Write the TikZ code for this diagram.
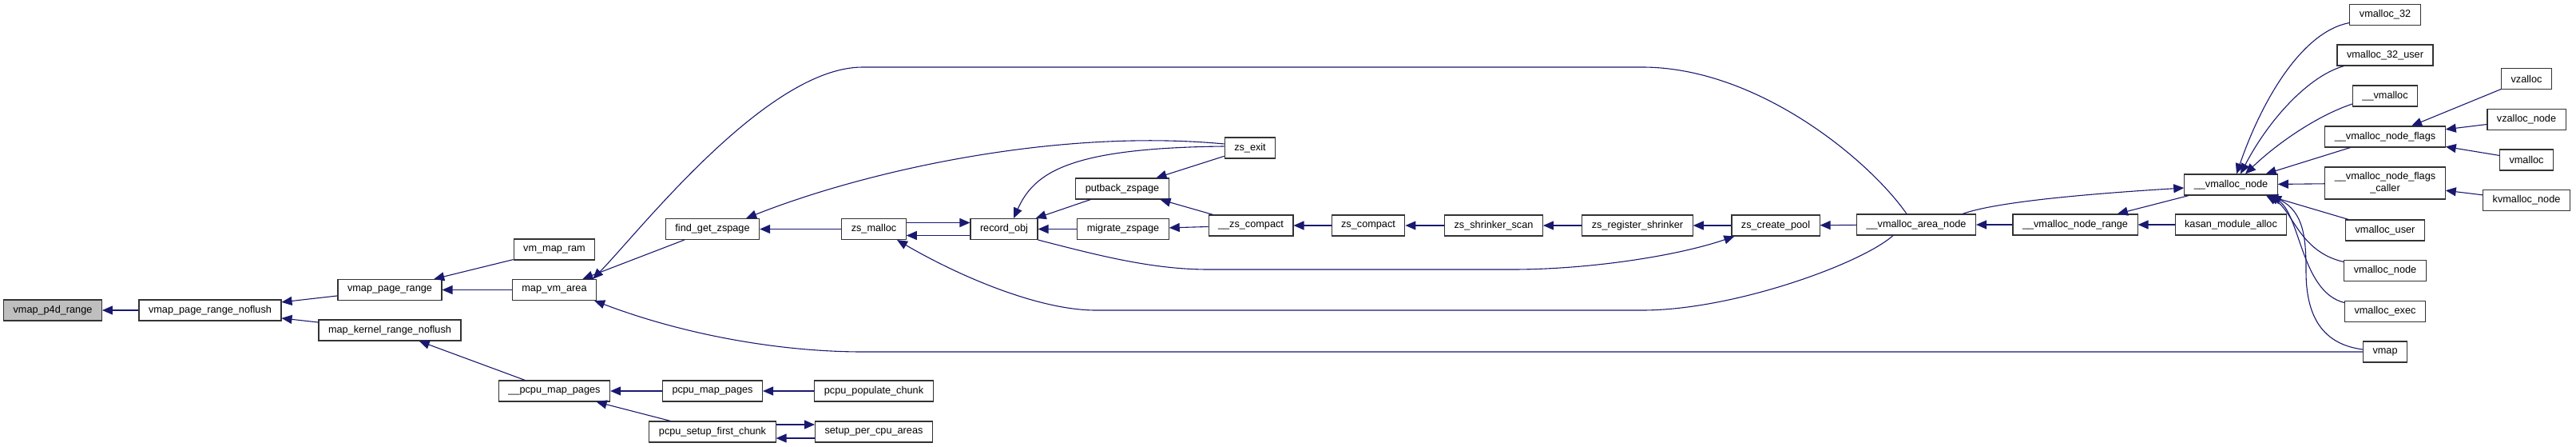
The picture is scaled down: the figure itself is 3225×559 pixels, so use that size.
\documentclass[tikz,border=0pt]{standalone}
\usepackage{fontspec}
\setmainfont{Liberation Sans}
\usetikzlibrary{arrows.meta}
\definecolor{mblue}{HTML}{191970}
\definecolor{ngray}{HTML}{BFBFBF}
\begin{document}
\begin{tikzpicture}[x=1pt,y=-1pt,
  nbox/.style={draw=black!80, line width=1.1pt, fill=white, inner xsep=12pt, inner ysep=0pt,
    minimum height=26pt, font=\fontsize{12.7}{15}\selectfont, text=black},
  cg/.style={draw=mblue, line width=1.1pt, {Triangle[length=13pt,width=11pt]}-}
]
\path[use as bounding box] (0,0) rectangle (3225,559);

% nodes
\node[nbox, fill=ngray] (p4d) at (66,388) {vmap\_p4d\_range};
\node[nbox] (noflush) at (263,388) {vmap\_page\_range\_noflush};
\node[nbox] (vpr) at (488,362.5) {vmap\_page\_range};
\node[nbox] (mkrn) at (488,413) {map\_kernel\_range\_noflush};
\node[nbox] (vmram) at (694,312) {vm\_map\_ram};
\node[nbox] (mva) at (694,362.5) {map\_vm\_area};
\node[nbox] (pmp) at (694,489) {\_\_pcpu\_map\_pages};
\node[nbox] (pcpumap) at (892,489) {pcpu\_map\_pages};
\node[nbox] (psfc) at (892,540) {pcpu\_setup\_first\_chunk};
\node[nbox] (ppc) at (1094,489) {pcpu\_populate\_chunk};
\node[nbox] (spca) at (1094,540) {setup\_per\_cpu\_areas};
\node[nbox] (fgz) at (892,286.5) {find\_get\_zspage};
\node[nbox] (zsm) at (1094,286.5) {zs\_malloc};
\node[nbox] (rec) at (1257,286.5) {record\_obj};
\node[nbox] (putb) at (1405,236) {putback\_zspage};
\node[nbox] (migr) at (1406,286.5) {migrate\_zspage};
\node[nbox] (zsexit) at (1565,185) {zs\_exit};
\node[nbox] (zzc) at (1566,282) {\_\_zs\_compact};
\node[nbox] (zsc) at (1713,282) {zs\_compact};
\node[nbox] (zss) at (1870,282) {zs\_shrinker\_scan};
\node[nbox] (zsr) at (2050,282) {zs\_register\_shrinker};
\node[nbox] (zcp) at (2223,282) {zs\_create\_pool};
\node[nbox] (van) at (2399,281) {\_\_vmalloc\_area\_node};
\node[nbox] (vnr) at (2598,281) {\_\_vmalloc\_node\_range};
\node[nbox] (kasan) at (2793,281) {kasan\_module\_alloc};
\node[nbox] (vn) at (2793,231) {\_\_vmalloc\_node};
\node[nbox] (v32) at (2986,18.5) {vmalloc\_32};
\node[nbox] (v32u) at (2986,69) {vmalloc\_32\_user};
\node[nbox] (uvm) at (2986,120) {\_\_vmalloc};
\node[nbox] (vnf) at (2986,171) {\_\_vmalloc\_node\_flags};
\node[nbox, align=center, minimum height=40pt, inner ysep=2pt] (vnfc) at (2986,229) {\_\_vmalloc\_node\_flags\\\_caller};
\node[nbox] (vuser) at (2986,288) {vmalloc\_user};
\node[nbox] (vnode) at (2986,338.5) {vmalloc\_node};
\node[nbox] (vexec) at (2986,389.5) {vmalloc\_exec};
\node[nbox] (vmap) at (2986,440) {vmap};
\node[nbox] (vz) at (3163,98.5) {vzalloc};
\node[nbox] (vzn) at (3163,149.5) {vzalloc\_node};
\node[nbox] (vmalloc) at (3163,200) {vmalloc};
\node[nbox] (kvn) at (3163,250.5) {kvmalloc\_node};

% edges
\draw[cg] (p4d) -- (noflush);
\draw[cg] (noflush) -- (vpr);
\draw[cg] (noflush) -- (mkrn);
\draw[cg] (vpr) -- (vmram);
\draw[cg] (vpr) -- (mva);
\draw[cg] (mkrn) -- (pmp);
\draw[cg] (mva) -- (fgz);
\draw[cg] ([xshift=-5pt]mva.north east) .. controls (800,290) and (960,84) .. (1080,84)
  -- (2056,84) .. controls (2200,84) and (2340,200) .. ([xshift=-12pt]van.north);
\draw[cg] ([xshift=-3pt]mva.south east) .. controls (860,420) and (980,440) .. (1080,440) -- (vmap.west);
\draw[cg] (pmp) -- (pcpumap);
\draw[cg] (pmp) -- (psfc);
\draw[cg] (pcpumap) -- (ppc);
\draw[cg] ([yshift=9pt]spca.west) -- ([yshift=9pt]psfc.east);
\draw[cg] ([yshift=-8pt]psfc.east) -- ([yshift=-8pt]spca.west);
\draw[cg] (fgz) -- (zsm);
\draw[cg] ([xshift=-17pt]fgz.north east) .. controls (1080,215) and (1320,160) .. ([yshift=5pt]zsexit.west);
\draw[cg] ([yshift=8pt]rec.west) -- ([yshift=8pt]zsm.east);
\draw[cg] ([yshift=-8pt]zsm.east) -- ([yshift=-8pt]rec.west);
\draw[cg] ([xshift=29pt]zsm.south) .. controls (1200,345) and (1300,388) .. (1372,388)
  -- (2056,388) .. controls (2170,388) and (2330,330) .. ([xshift=-29pt]van.south);
\draw[cg] (rec) -- (migr);
\draw[cg] (rec) -- (putb);
\draw[cg] ([xshift=12pt]rec.north) .. controls (1295,215) and (1340,185) .. ([yshift=2pt]zsexit.west);
\draw[cg] ([xshift=4pt]zcp.south west) .. controls (2100,320) and (1990,337) .. (1893,337)
  -- (1513,337) .. controls (1440,337) and (1370,318) .. (rec.south east);
\draw[cg] (putb) -- (zsexit);
\draw[cg] (putb) -- (zzc);
\draw[cg] (migr) -- (zzc);
\draw[cg] (zzc) -- (zsc);
\draw[cg] (zsc) -- (zss);
\draw[cg] (zss) -- (zsr);
\draw[cg] (zsr) -- (zcp);
\draw[cg] (zcp) -- (van);
\draw[cg] (van) -- (vnr);
\draw[cg] (vnr) -- (kasan);
\draw[cg] (vnr) -- (vn);
\draw[cg] ([yshift=-4pt]vn.west) .. controls (2620,242) and (2500,252) .. ([xshift=-17pt]van.north east);
\draw[cg] ([xshift=7pt]vn.north) .. controls (2830,130) and (2880,40) .. ([yshift=-10pt]v32.west);
\draw[cg] ([xshift=12pt]vn.north) .. controls (2840,150) and (2890,95) .. ([xshift=9pt]v32u.south west);
\draw[cg] ([xshift=18pt]vn.north) .. controls (2850,180) and (2900,145) .. ([yshift=-10pt]uvm.west);
\draw[cg] (vn) -- (vnf);
\draw[cg] (vn) -- (vnfc);
\draw[cg] (vn) -- (vuser);
\draw[cg] ([xshift=44pt]vn.south) .. controls (2870,262) and (2878,315) .. ([yshift=11pt]vnode.west);
\draw[cg] ([xshift=47pt]vn.south) .. controls (2880,265) and (2880,365) .. ([yshift=11pt]vexec.west);
\draw[cg] ([xshift=50pt]vn.south) .. controls (2885,265) and (2887,300) .. (2887,340)
  .. controls (2887,410) and (2920,432) .. ([yshift=3pt]vmap.west);
\draw[cg] (vnf) -- (vz);
\draw[cg] (vnf) -- (vzn);
\draw[cg] (vnf) -- (vmalloc);
\draw[cg] (vnfc) -- (kvn);
\end{tikzpicture}
\end{document}
